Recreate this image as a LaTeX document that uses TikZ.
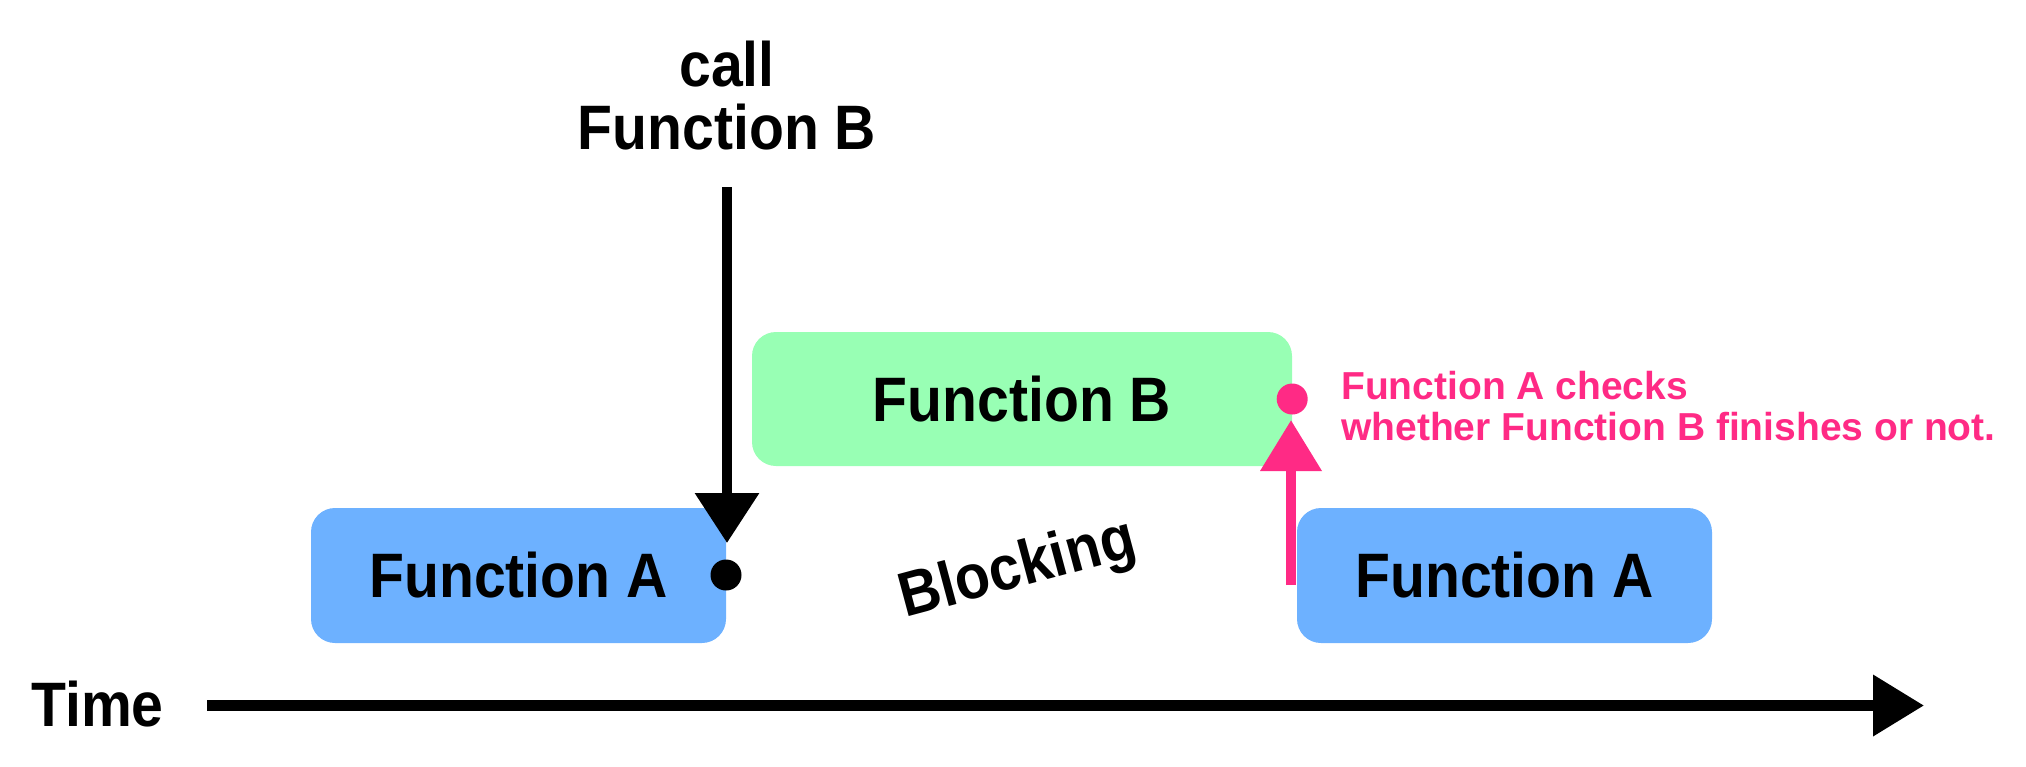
\documentclass[tikz,border=0pt]{standalone}
\usepackage{fontspec}
\setmainfont{Liberation Sans}
\newfontfamily\bigfont[FakeStretch=0.91]{Liberation Sans}
\usetikzlibrary{arrows.meta}
\definecolor{boxblue}{HTML}{6DB1FF}
\definecolor{boxgreen}{HTML}{98FFB4}
\definecolor{hotpink}{HTML}{FF2A85}
\begin{document}
\begin{tikzpicture}[x=1pt,y=-1pt,
  bigtext/.style={inner sep=0pt, font=\bigfont\bfseries\fontsize{62.8}{63}\selectfont},
  smalltext/.style={inner sep=0pt, font=\bfseries\fontsize{39}{41}\selectfont},
  fbox/.style={bigtext, rectangle, rounded corners=24pt, minimum width=415pt, minimum height=135pt},
  dot/.style={circle, inner sep=0pt, minimum size=31pt},
  blackarrow/.style={draw=black, line width=10pt, -{Triangle[width=62pt,length=50pt]}},
  pinkarrow/.style={draw=hotpink, line width=10.5pt, -{Triangle[width=59pt,length=51pt]}, color=hotpink},
  timearrow/.style={draw=black, line width=10.5pt, -{Triangle[width=59pt,length=51pt]}}
]
\useasboundingbox (0,0) rectangle (2026,766);
% boxes
\node[fbox, fill=boxblue] (fa1) at (518.5,575.5) {Function A};
\node[fbox, fill=boxblue] (fa2) at (1504.5,575.5) {Function A};
\node[fbox, fill=boxgreen, minimum width=540pt, minimum height=134pt] (fb) at (1022,399) {Function B};
% dots
\node[dot, fill=black] (dotA) at (726,575) {};
\node[dot, fill=hotpink] (dotB) at (fb.east) {};
% call label and arrow
\node[bigtext, anchor=north, align=center] (call) at (727,41) {call\\Function B};
\coordinate (callstart) at (727,187);
\coordinate (callend) at (727,543);
\draw[blackarrow] (callstart) -- (callend);
% check arrow
\coordinate (chkstart) at (1291,585);
\coordinate (chkend) at (1291,420);
\draw[pinkarrow] (chkstart) -- (chkend);
\node[smalltext, anchor=north west, align=left, text=hotpink] (note) at (1341,371) {Function A checks\\whether Function B finishes or not.};
% blocking
\node[bigtext, rotate=15] (blk) at (1018,571) {Blocking};
% time axis
\node[bigtext, anchor=base] (time) at (97.5,726) {Time};
\coordinate (tstart) at (207,705.5);
\coordinate (tend) at (1924,705.5);
\draw[timearrow] (tstart) -- (tend);
\end{tikzpicture}
\end{document}
